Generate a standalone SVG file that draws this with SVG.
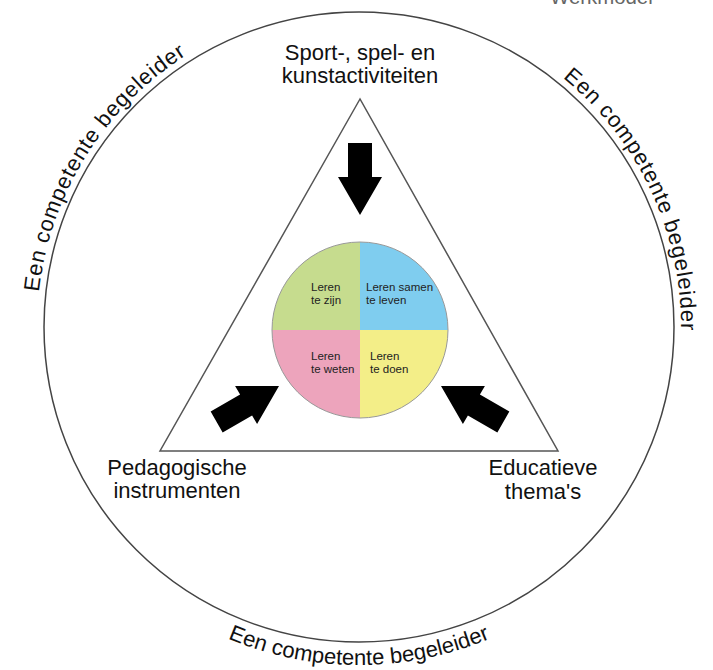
<svg xmlns="http://www.w3.org/2000/svg" xmlns:xlink="http://www.w3.org/1999/xlink" width="713" height="670" viewBox="0 0 713 670">
  <defs>
    <style>
      .lbl { font-family: "Liberation Sans", Arial, sans-serif; font-size: 22px; fill: #111; text-anchor: middle; }
      .ring { font-family: "Liberation Sans", Arial, sans-serif; font-size: 22px; fill: #111; text-anchor: middle; }
      .side { letter-spacing: 0.8px; }
      .q { font-family: "Liberation Sans", Arial, sans-serif; font-size: 11.5px; fill: #222; }
      .arrow { fill: #000; }
    </style>
    <path id="arcLeft" d="M 74.7 478.2 A 322 322 0 0 1 370.2 5.2" fill="none"/>
    <path id="arcRight" d="M 387.1 6.2 A 322 322 0 0 1 622.8 511.7" fill="none"/>
    <path id="arcBottom" d="M 66.3 496 A 338 338 0 0 0 651.7 496" fill="none"/>
    <polygon id="arr" points="-12,-72 12,-72 12,-38 22,-38 0,0 -22,-38 -12,-38"/>
  </defs>
  <rect width="713" height="670" fill="#fff"/>

  <text x="550" y="4" font-family="Liberation Sans, Arial, sans-serif" font-size="20.4" fill="#666">Werkmodel</text>

  <g id="outer-ring">
    <circle cx="359" cy="327" r="315" fill="none" stroke="#444" stroke-width="1.5"/>
    <text class="ring side"><textPath xlink:href="#arcLeft" href="#arcLeft" startOffset="50%">Een competente begeleider</textPath></text>
    <text class="ring side"><textPath xlink:href="#arcRight" href="#arcRight" startOffset="50%">Een competente begeleider</textPath></text>
    <text class="ring"><textPath xlink:href="#arcBottom" href="#arcBottom" startOffset="50%">Een competente begeleider</textPath></text>
  </g>

  <g id="triangle">
    <polygon points="360,99 160,451 558,451" fill="#fff" stroke="#555" stroke-width="1.5" stroke-linejoin="miter"/>
  </g>

  <g id="top-node">
    <text class="lbl" x="360" y="60">Sport-, spel- en</text>
    <text class="lbl" x="360" y="83">kunstactiviteiten</text>
  </g>
  <g id="left-node">
    <text class="lbl" x="177" y="475">Pedagogische</text>
    <text class="lbl" x="177" y="498">instrumenten</text>
  </g>
  <g id="right-node">
    <text class="lbl" x="543" y="475">Educatieve</text>
    <text class="lbl" x="543" y="499">thema's</text>
  </g>

  <g id="center-circle">
    <path d="M360,330 L360,242 A88,88 0 0 0 272,330 Z" fill="#c6dc8e"/>
    <path d="M360,330 L448,330 A88,88 0 0 0 360,242 Z" fill="#7fcdef"/>
    <path d="M360,330 L272,330 A88,88 0 0 0 360,418 Z" fill="#eda4bc"/>
    <path d="M360,330 L360,418 A88,88 0 0 0 448,330 Z" fill="#f3ee88"/>
    <circle cx="360" cy="330" r="88" fill="none" stroke="#999" stroke-width="1"/>
    <text class="q" x="311" y="291">Leren</text>
    <text class="q" x="311" y="304">te zijn</text>
    <text class="q" x="366" y="291">Leren samen</text>
    <text class="q" x="366" y="304">te leven</text>
    <text class="q" x="311" y="360">Leren</text>
    <text class="q" x="311" y="373">te weten</text>
    <text class="q" x="370" y="360">Leren</text>
    <text class="q" x="370" y="373">te doen</text>
  </g>

  <g id="connectors">
    <use href="#arr" xlink:href="#arr" class="arrow" transform="translate(360,215)"/>
    <use href="#arr" xlink:href="#arr" class="arrow" transform="translate(279,386) rotate(-120)"/>
    <use href="#arr" xlink:href="#arr" class="arrow" transform="translate(441,386) rotate(120)"/>
  </g>
</svg>
